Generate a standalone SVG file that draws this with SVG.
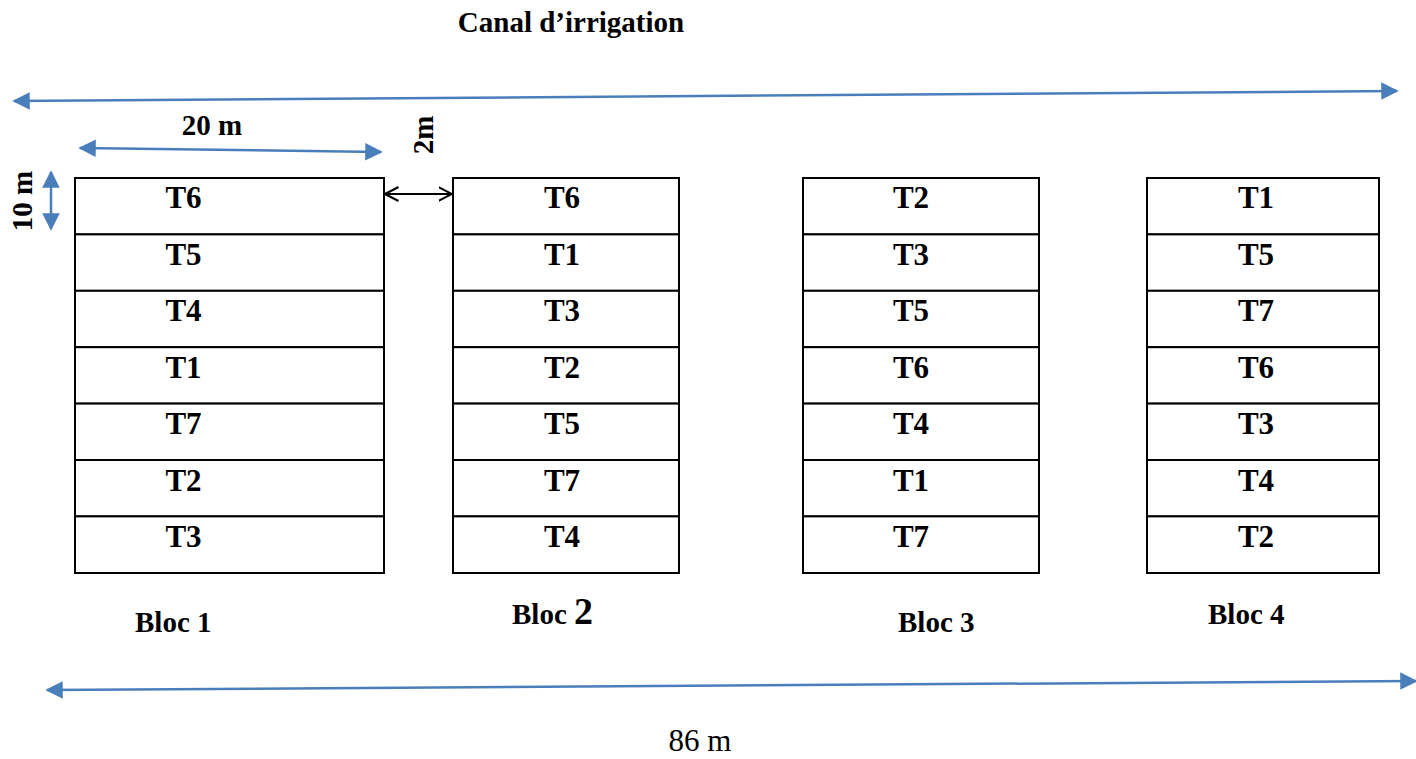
<svg xmlns="http://www.w3.org/2000/svg" width="1416" height="759" viewBox="0 0 1416 759">
<style>
.cell{fill:#fff;stroke:#000;stroke-width:2}
.t{font-family:"Liberation Serif",serif;font-weight:bold;font-size:31px;fill:#000;text-anchor:middle}
.b{font-family:"Liberation Serif",serif;font-weight:bold;font-size:29px;fill:#000}
.dim{stroke:#4a7ebb;stroke-width:2.5;fill:none}
</style>
<defs>
<marker id="ab" viewBox="0 0 10 10" refX="9" refY="5" markerWidth="7" markerHeight="7" orient="auto-start-reverse" markerUnits="strokeWidth">
<path d="M0,0 L10,5 L0,10 z" fill="#4a7ebb"/>
</marker>
<marker id="ak" viewBox="0 0 14 16" refX="13.5" refY="8" markerWidth="14" markerHeight="16" orient="auto-start-reverse" markerUnits="userSpaceOnUse">
<path d="M0,1 L13.5,8 L0,15" fill="none" stroke="#000" stroke-width="2"/>
</marker>
</defs>
<rect width="1416" height="759" fill="#fff"/>
<text x="571" y="32" class="b" text-anchor="middle">Canal d’irrigation</text>
<g id="connectors">
<line class="dim" x1="14" y1="101" x2="1397" y2="91" marker-start="url(#ab)" marker-end="url(#ab)"/>
<line class="dim" x1="80" y1="148" x2="381" y2="152" marker-start="url(#ab)" marker-end="url(#ab)"/>
<line class="dim" x1="51" y1="172" x2="51" y2="229" marker-start="url(#ab)" marker-end="url(#ab)"/>
<line x1="385" y1="194" x2="452" y2="194" stroke="#000" stroke-width="2" marker-start="url(#ak)" marker-end="url(#ak)"/>
<line class="dim" x1="47" y1="690" x2="1416" y2="681" marker-start="url(#ab)" marker-end="url(#ab)"/>
</g>
<text class="b" transform="translate(433,135) rotate(-90)" text-anchor="middle" font-size="28">2m</text>
<text class="b" transform="translate(32,201) rotate(-90)" text-anchor="middle" font-size="24">10 m</text>
<text class="b" x="212" y="135" text-anchor="middle">20 m</text>
<g id="bloc1">
<rect class="cell" x="75" y="178" width="309" height="56.4"/>
<rect class="cell" x="75" y="234.4" width="309" height="56.4"/>
<rect class="cell" x="75" y="290.8" width="309" height="56.4"/>
<rect class="cell" x="75" y="347.2" width="309" height="56.4"/>
<rect class="cell" x="75" y="403.6" width="309" height="56.4"/>
<rect class="cell" x="75" y="460" width="309" height="56.4"/>
<rect class="cell" x="75" y="516.4" width="309" height="56.6"/>
<text class="t" x="183.5" y="208">T6</text>
<text class="t" x="183.5" y="265">T5</text>
<text class="t" x="183.5" y="321">T4</text>
<text class="t" x="183.5" y="378">T1</text>
<text class="t" x="183.5" y="434">T7</text>
<text class="t" x="183.5" y="491">T2</text>
<text class="t" x="183.5" y="547">T3</text>
<text class="b" x="135" y="632">Bloc 1</text>
</g>
<g id="bloc2">
<rect class="cell" x="453" y="178" width="226" height="56.4"/>
<rect class="cell" x="453" y="234.4" width="226" height="56.4"/>
<rect class="cell" x="453" y="290.8" width="226" height="56.4"/>
<rect class="cell" x="453" y="347.2" width="226" height="56.4"/>
<rect class="cell" x="453" y="403.6" width="226" height="56.4"/>
<rect class="cell" x="453" y="460" width="226" height="56.4"/>
<rect class="cell" x="453" y="516.4" width="226" height="56.6"/>
<text class="t" x="562" y="208">T6</text>
<text class="t" x="562" y="265">T1</text>
<text class="t" x="562" y="321">T3</text>
<text class="t" x="562" y="378">T2</text>
<text class="t" x="562" y="434">T5</text>
<text class="t" x="562" y="491">T7</text>
<text class="t" x="562" y="547">T4</text>
<text class="b" x="512" y="624">Bloc <tspan font-size="38">2</tspan></text>
</g>
<g id="bloc3">
<rect class="cell" x="803" y="178" width="236" height="56.4"/>
<rect class="cell" x="803" y="234.4" width="236" height="56.4"/>
<rect class="cell" x="803" y="290.8" width="236" height="56.4"/>
<rect class="cell" x="803" y="347.2" width="236" height="56.4"/>
<rect class="cell" x="803" y="403.6" width="236" height="56.4"/>
<rect class="cell" x="803" y="460" width="236" height="56.4"/>
<rect class="cell" x="803" y="516.4" width="236" height="56.6"/>
<text class="t" x="911" y="208">T2</text>
<text class="t" x="911" y="265">T3</text>
<text class="t" x="911" y="321">T5</text>
<text class="t" x="911" y="378">T6</text>
<text class="t" x="911" y="434">T4</text>
<text class="t" x="911" y="491">T1</text>
<text class="t" x="911" y="547">T7</text>
<text class="b" x="898" y="632">Bloc 3</text>
</g>
<g id="bloc4">
<rect class="cell" x="1147" y="178" width="232" height="56.4"/>
<rect class="cell" x="1147" y="234.4" width="232" height="56.4"/>
<rect class="cell" x="1147" y="290.8" width="232" height="56.4"/>
<rect class="cell" x="1147" y="347.2" width="232" height="56.4"/>
<rect class="cell" x="1147" y="403.6" width="232" height="56.4"/>
<rect class="cell" x="1147" y="460" width="232" height="56.4"/>
<rect class="cell" x="1147" y="516.4" width="232" height="56.6"/>
<text class="t" x="1256" y="208">T1</text>
<text class="t" x="1256" y="265">T5</text>
<text class="t" x="1256" y="321">T7</text>
<text class="t" x="1256" y="378">T6</text>
<text class="t" x="1256" y="434">T3</text>
<text class="t" x="1256" y="491">T4</text>
<text class="t" x="1256" y="547">T2</text>
<text class="b" x="1208" y="624">Bloc 4</text>
</g>
<text x="700" y="751" font-family="Liberation Serif,serif" font-size="31" text-anchor="middle" fill="#000">86 m</text>
</svg>
